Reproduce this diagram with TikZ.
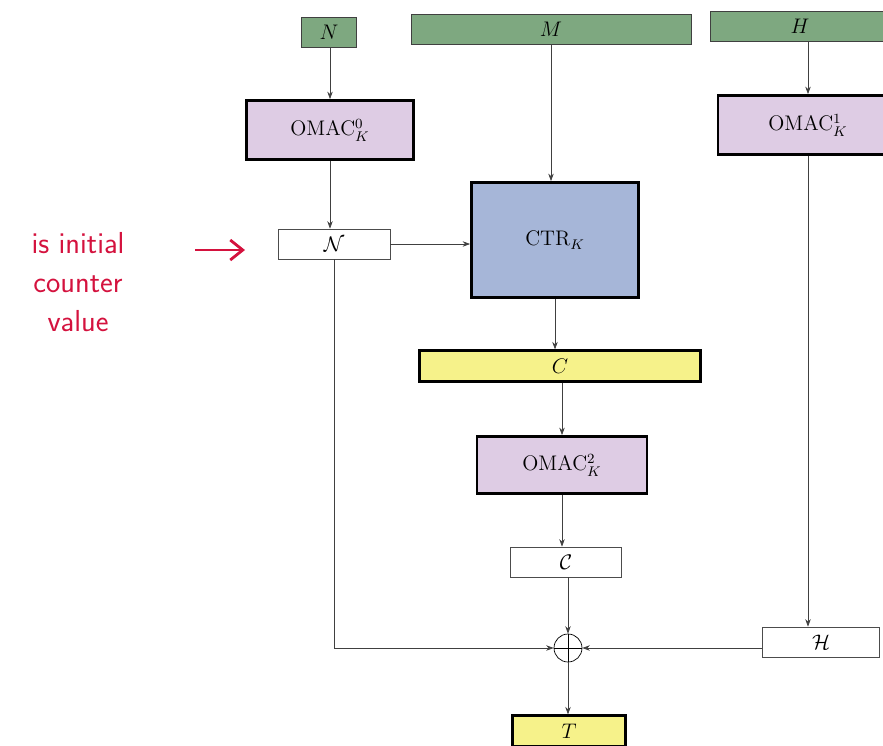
\documentclass[tikz,border=0pt]{standalone}
\usepackage{amsmath}
\usepackage{amssymb}
\usepackage{tikz}
\usetikzlibrary{arrows.meta, positioning, calc}

\definecolor{ingreen}{RGB}{126,168,128}
\definecolor{macpink}{RGB}{222,204,228}
\definecolor{ctrblue}{RGB}{166,182,216}
\definecolor{outyellow}{RGB}{246,242,138}
\definecolor{penred}{RGB}{212,18,62}

\tikzset{
	inbox/.style={draw=black!75, fill=ingreen, thin, inner sep=0pt, minimum height=0.6cm, font=\large},
	macbox/.style={draw, fill=macpink, line width=1.6pt, minimum height=1.18cm, font=\large},
	valbox/.style={draw=black!70, thin, fill=white, minimum height=0.6cm, inner sep=0pt, font=\large},
	outbox/.style={draw, fill=outyellow, line width=1.3pt, minimum height=0.62cm, inner sep=0pt, font=\large},
	flow/.style={-{Stealth[length=1.5mm, width=1.1mm]}, black!75, thin},
}

\begin{document}
\begin{tikzpicture}[x=0.02cm, y=-0.02cm]
		
		\useasboundingbox (0,0) rectangle (883,745);
		\clip (0,0) rectangle (883,745);
		
		% ---------------------------------------------------------
		% Inputs: nonce, message, header
		% ---------------------------------------------------------
		\node[inbox, minimum width=1.1cm] (nin) at (329,32) {$N$};
		\node[inbox, minimum width=5.6cm] (min) at (551,29) {$M$};
		\node[inbox, minimum width=3.8cm] (hin) at (805,26) {\hspace*{-0.2cm}$H$};
		
		% ---------------------------------------------------------
		% Keyed blocks
		% ---------------------------------------------------------
		\node[macbox, minimum width=3.34cm] (omac0) at (330,130) {OMAC$^0_K$};
		\node[macbox, minimum width=3.6cm] (omac1) at (808,125) {OMAC$^1_K$};
		\node[macbox, fill=ctrblue, minimum width=3.34cm, minimum height=2.3cm] (ctr) at (555,240) {CTR$_K$};
		\node[macbox, minimum width=3.4cm, minimum height=1.14cm] (omac2) at (562,465) {OMAC$^2_K$};
		
		% Intermediate values
		\node[valbox, minimum width=2.24cm] (nval) at (334,244) {$\mathcal{N}$};
		\node[valbox, minimum width=2.22cm] (cval) at (566,562) {$\mathcal{C}$};
		\node[valbox, minimum width=2.34cm] (hval) at (821,642) {$\mathcal{H}$};
		
		% Outputs
		\node[outbox, minimum width=5.62cm] (cout) at (560,366) {$C$};
		\node[outbox, minimum width=2.26cm] (tout) at (569,731) {$T$};
		
		% XOR
		\node[circle, draw, thin, minimum size=0.56cm, inner sep=0pt] (xor) at (568,648) {};
		\draw[thin] (xor.north) -- (xor.south);
		\draw[thin] (xor.west) -- (xor.east);
		
		% ---------------------------------------------------------
		% Connections
		% ---------------------------------------------------------
		\draw[flow] (nin.south -| omac0.north) -- (omac0.north);
		\draw[flow] (omac0.south) -- (omac0.south |- nval.north);
		\draw[flow] (nval.east) -- (nval.east -| ctr.west);
		\draw[flow] (min.south) -- (min.south |- ctr.north);
		\draw[flow] (ctr) -- (ctr.south |- cout.north);
		\draw[flow] (cout.south -| omac2.north) -- (omac2.north);
		\draw[flow] (omac2) -- (omac2.south |- cval.north);
		\draw[flow] (cval.south -| xor.north) -- (xor.north);
		\draw[flow] (xor.south) -- (xor.south |- tout.north);
		
		\draw[flow] (hin.south -| omac1.north) -- (omac1.north);
		\draw[flow] (omac1.south) -- (omac1.south |- hval.north);
		
		\draw[flow] (nval.south) |- (xor.west);
		\draw[flow] (xor.east -| hval.west) -- (xor.east);
		
		% ---------------------------------------------------------
		% Note in red pen
		% ---------------------------------------------------------
		\node[penred, font=\sffamily\LARGE, align=center] (note) at (78,282) {is initial\\counter\\value};
		\coordinate (pen-a) at (195,250);
		\coordinate (pen-b) at (245,250);
		\draw[penred, line width=1.6pt, -{Straight Barb[length=2.5mm, width=4mm]}] (pen-a) -- (pen-b);
		
	\end{tikzpicture}
\end{document}
